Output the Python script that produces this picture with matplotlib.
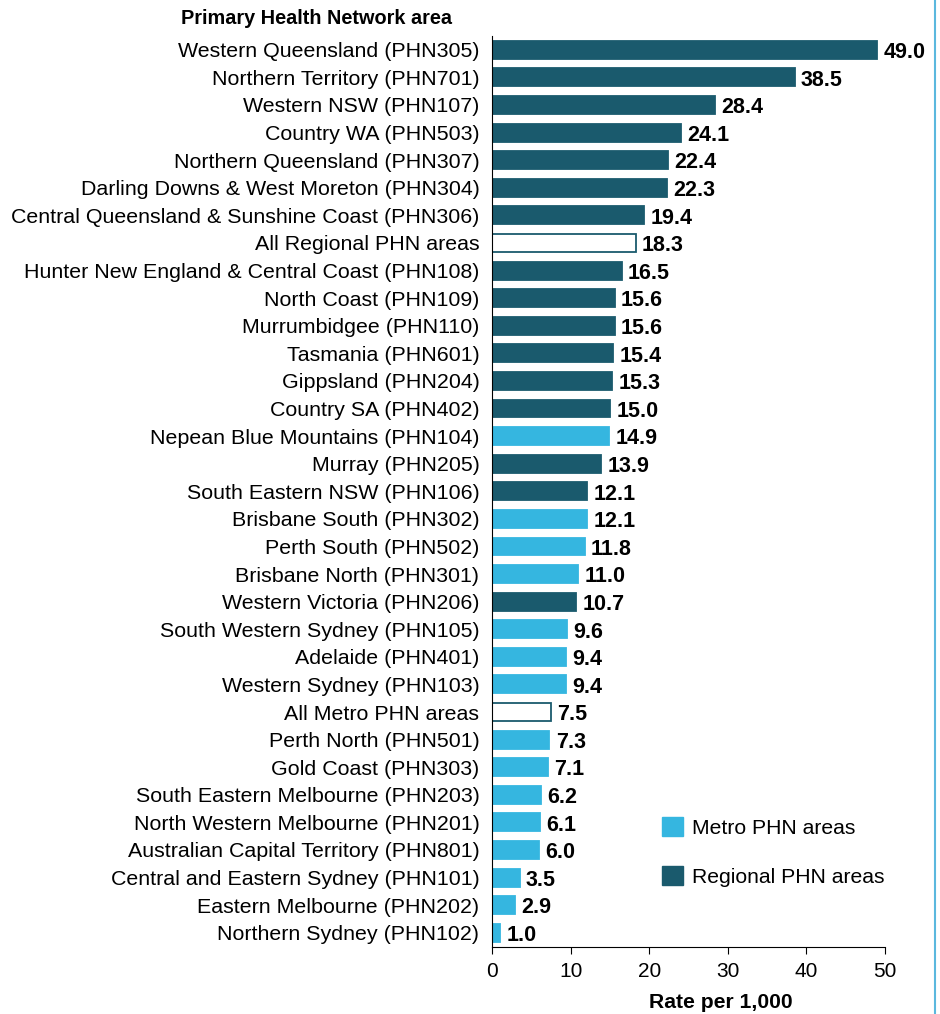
import matplotlib as mpl
mpl.rcParams['figure.dpi'] = 100
import matplotlib.pyplot as plt
from matplotlib.patches import Patch
from matplotlib.lines import Line2D

plt.rcParams['font.family'] = ['Liberation Sans', 'DejaVu Sans']

areas = [
    'Western Queensland (PHN305)', 'Northern Territory (PHN701)', 'Western NSW (PHN107)',
    'Country WA (PHN503)', 'Northern Queensland (PHN307)', 'Darling Downs & West Moreton (PHN304)',
    'Central Queensland & Sunshine Coast (PHN306)', 'All Regional PHN areas',
    'Hunter New England & Central Coast (PHN108)', 'North Coast (PHN109)', 'Murrumbidgee (PHN110)',
    'Tasmania (PHN601)', 'Gippsland (PHN204)', 'Country SA (PHN402)', 'Nepean Blue Mountains (PHN104)',
    'Murray (PHN205)', 'South Eastern NSW (PHN106)', 'Brisbane South (PHN302)', 'Perth South (PHN502)',
    'Brisbane North (PHN301)', 'Western Victoria (PHN206)', 'South Western Sydney (PHN105)',
    'Adelaide (PHN401)', 'Western Sydney (PHN103)', 'All Metro PHN areas', 'Perth North (PHN501)',
    'Gold Coast (PHN303)', 'South Eastern Melbourne (PHN203)', 'North Western Melbourne (PHN201)',
    'Australian Capital Territory (PHN801)', 'Central and Eastern Sydney (PHN101)',
    'Eastern Melbourne (PHN202)', 'Northern Sydney (PHN102)',
]
rates = [49.0, 38.5, 28.4, 24.1, 22.4, 22.3, 19.4, 18.3, 16.5, 15.6, 15.6, 15.4, 15.3, 15.0,
         14.9, 13.9, 12.1, 12.1, 11.8, 11.0, 10.7, 9.6, 9.4, 9.4, 7.5, 7.3, 7.1, 6.2, 6.1,
         6.0, 3.5, 2.9, 1.0]
# R = regional, M = metro, A = all-areas total
groups = ['R', 'R', 'R', 'R', 'R', 'R', 'R', 'A', 'R', 'R', 'R', 'R', 'R', 'R', 'M', 'R', 'R',
          'M', 'M', 'M', 'R', 'M', 'M', 'M', 'A', 'M', 'M', 'M', 'M', 'M', 'M', 'M', 'M']

metro_col = '#35b6e0'
region_col = '#1a5a6d'

fig = plt.figure(figsize=(9.4, 10.14))
ax = fig.add_axes([0.5234, 0.0665, 0.418, 0.898])

ypos = list(range(len(areas)))
faces = []
edges = []
for g in groups:
    if g == 'R':
        faces.append(region_col); edges.append(region_col)
    elif g == 'M':
        faces.append(metro_col); edges.append(metro_col)
    else:
        faces.append('white'); edges.append(region_col)

ax.barh(ypos, rates, height=0.65, color=faces, edgecolor=edges, linewidth=1.3)
for y, v in zip(ypos, rates):
    ax.text(v + 0.8, y + 0.1, '%.1f' % v, va='center', ha='left',
            fontsize=15.5, fontweight='bold', color='black')

ax.set_ylim(len(areas) - 0.5, -0.5)
ax.set_xlim(0, 50)
ax.set_yticks(ypos)
ax.set_yticklabels(areas, fontsize=15.4)
ax.set_xticks([0, 10, 20, 30, 40, 50])
ax.tick_params(axis='y', length=0, pad=9)
ax.tick_params(axis='x', labelsize=15, length=5, direction='out', pad=6)
ax.spines['top'].set_visible(False)
ax.spines['right'].set_visible(False)
ax.set_xlabel('Rate per 1,000', fontsize=15.2, fontweight='bold', labelpad=9)
ax.xaxis.label.set_x(0.583)

fig.text(0.481, 0.982, 'Primary Health Network area', ha='right', va='center',
         fontsize=14.3, fontweight='bold')

h = [Patch(facecolor=metro_col, edgecolor=metro_col),
     Patch(facecolor=region_col, edgecolor=region_col)]
ax.legend(handles=h, labels=['Metro PHN areas', 'Regional PHN areas'],
          loc='upper left', bbox_to_anchor=(0.384, 0.163), frameon=False, fontsize=15.2,
          handlelength=1.0, handleheight=1.0, handletextpad=0.45, labelspacing=1.35)

fig.add_artist(Line2D([935 / 940, 935 / 940], [0, 1], color='#5bb8de', linewidth=1.5))

fig.savefig('out.png')
